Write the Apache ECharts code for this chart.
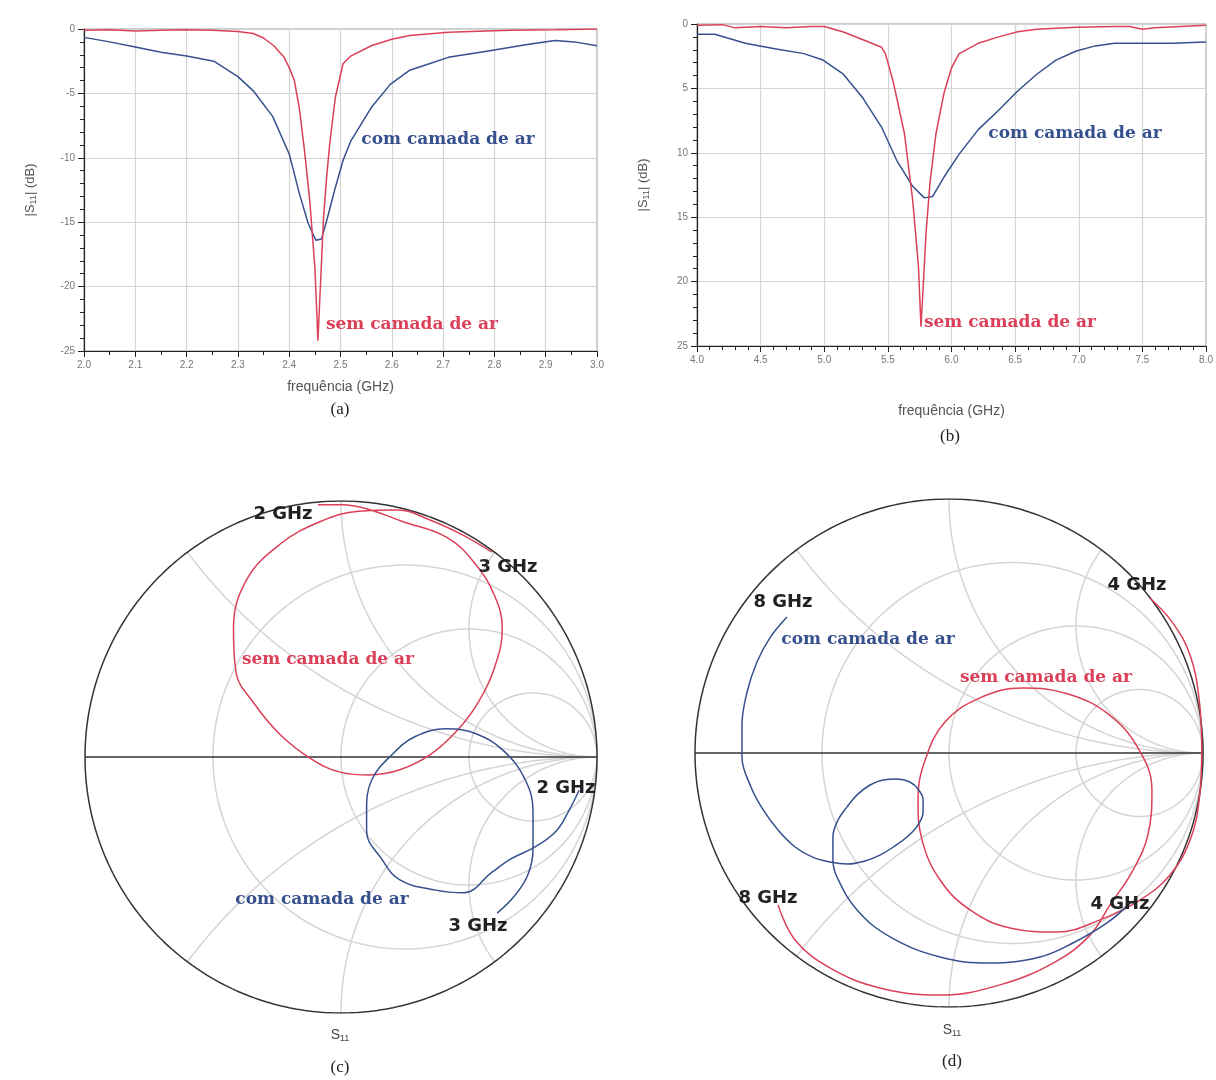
<!DOCTYPE html>
<html>
<head>
<meta charset="utf-8">
<script src="https://cdn.jsdelivr.net/npm/echarts/dist/echarts.min.js"></script>
<style>
  html, body { margin: 0; padding: 0; background: #fff; }
  #chart { width: 1216px; height: 1080px; }
</style>
</head>
<body>
<div id="chart"></div>
<script>
// (a) 2-3 GHz, |S11| in dB
const freqA_sem = [2.00, 2.05, 2.10, 2.15, 2.20, 2.25, 2.30, 2.33, 2.35, 2.37, 2.39, 2.40, 2.41, 2.42, 2.43, 2.44, 2.45, 2.456, 2.461, 2.467, 2.473, 2.479, 2.49, 2.505, 2.52, 2.56, 2.60, 2.635, 2.71, 2.83, 2.92, 3.00];
const s11A_sem  = [-0.1, -0.05, -0.15, -0.1, -0.05, -0.1, -0.2, -0.35, -0.7, -1.3, -2.2, -3.0, -4.0, -6.2, -9.5, -13.3, -18.5, -24.2, -19.8, -14.6, -11.5, -8.9, -5.3, -2.7, -2.1, -1.3, -0.8, -0.5, -0.26, -0.1, -0.05, 0];
const freqA_com = [2.00, 2.05, 2.10, 2.15, 2.20, 2.253, 2.30, 2.33, 2.368, 2.40, 2.42, 2.437, 2.452, 2.463, 2.475, 2.49, 2.505, 2.52, 2.56, 2.597, 2.635, 2.673, 2.71, 2.788, 2.864, 2.918, 2.956, 3.00];
const s11A_com  = [-0.65, -1.0, -1.4, -1.8, -2.1, -2.5, -3.7, -4.8, -6.8, -9.7, -12.8, -15.1, -16.4, -16.3, -14.6, -12.3, -10.2, -8.7, -6.1, -4.3, -3.2, -2.7, -2.2, -1.7, -1.2, -0.9, -1.0, -1.3];

// (b) 4-8 GHz
const freqB_sem = [4.0, 4.2, 4.3, 4.5, 4.7, 4.9, 5.0, 5.145, 5.3, 5.45, 5.48, 5.54, 5.63, 5.695, 5.74, 5.76, 5.785, 5.80, 5.83, 5.878, 5.94, 6.0, 6.06, 6.21, 6.37, 6.52, 6.67, 6.98, 7.28, 7.4, 7.5, 7.6, 7.8, 8.0];
const s11B_sem  = [-0.1, -0.05, -0.3, -0.2, -0.3, -0.2, -0.2, -0.6, -1.2, -1.8, -2.3, -4.4, -8.5, -13.7, -18.8, -23.5, -19.0, -16.2, -12.4, -8.5, -5.4, -3.4, -2.3, -1.5, -1.0, -0.6, -0.4, -0.25, -0.2, -0.2, -0.4, -0.3, -0.2, -0.1];
const freqB_com = [4.0, 4.14, 4.38, 4.6, 4.84, 4.99, 5.15, 5.3, 5.45, 5.57, 5.695, 5.786, 5.85, 5.94, 6.06, 6.21, 6.37, 6.52, 6.67, 6.82, 6.98, 7.13, 7.28, 7.5, 7.74, 8.0];
const s11B_com  = [-0.8, -0.8, -1.5, -1.9, -2.3, -2.8, -3.9, -5.7, -8.0, -10.6, -12.6, -13.5, -13.4, -11.9, -10.1, -8.2, -6.7, -5.2, -3.9, -2.8, -2.1, -1.7, -1.5, -1.5, -1.5, -1.4];

// (c) Smith chart 2-3 GHz, S11 as [re, im]
const gammaC_sem = [[-0.09, 0.985], [0.0, 0.985], [0.1, 0.97], [0.24, 0.92], [0.41, 0.86], [0.52, 0.76], [0.60, 0.63], [0.63, 0.50], [0.60, 0.35], [0.54, 0.22], [0.46, 0.11], [0.35, 0.01], [0.23, -0.05], [0.11, -0.07], [0.0, -0.06], [-0.12, -0.005], [-0.24, 0.09], [-0.34, 0.21], [-0.41, 0.33], [-0.42, 0.50], [-0.37, 0.69], [-0.24, 0.83], [-0.08, 0.92], [0.07, 0.96], [0.22, 0.965], [0.35, 0.925], [0.48, 0.865], [0.59, 0.80]];
const gammaC_com = [[0.93, -0.13], [0.89, -0.21], [0.84, -0.29], [0.76, -0.35], [0.66, -0.40], [0.59, -0.45], [0.48, -0.53], [0.37, -0.52], [0.23, -0.48], [0.16, -0.40], [0.10, -0.29], [0.10, -0.21], [0.12, -0.09], [0.20, 0.01], [0.29, 0.08], [0.41, 0.11], [0.53, 0.09], [0.64, 0.02], [0.72, -0.09], [0.75, -0.21], [0.75, -0.36], [0.73, -0.46], [0.68, -0.54], [0.61, -0.61]];

// (d) Smith chart 4-8 GHz
const gammaD_sem = [[0.79, 0.61], [0.878, 0.516], [0.949, 0.386], [0.985, 0.209], [0.995, 0.012], [0.985, -0.185], [0.949, -0.343], [0.870, -0.480], [0.752, -0.579], [0.594, -0.657], [0.425, -0.705], [0.240, -0.689], [0.083, -0.618], [-0.035, -0.5], [-0.106, -0.343], [-0.122, -0.185], [-0.094, -0.028], [-0.016, 0.122], [0.122, 0.217], [0.291, 0.256], [0.469, 0.232], [0.626, 0.154], [0.744, 0.020], [0.799, -0.146], [0.783, -0.323], [0.720, -0.469], [0.634, -0.598], [0.555, -0.717], [0.417, -0.823], [0.201, -0.913], [-0.035, -0.953], [-0.272, -0.925], [-0.469, -0.846], [-0.606, -0.736], [-0.673, -0.598]];
const gammaD_com = [[0.713, -0.591], [0.622, -0.669], [0.488, -0.748], [0.358, -0.803], [0.161, -0.827], [-0.035, -0.803], [-0.232, -0.724], [-0.362, -0.618], [-0.441, -0.488], [-0.457, -0.421], [-0.457, -0.331], [-0.437, -0.264], [-0.402, -0.213], [-0.362, -0.165], [-0.311, -0.126], [-0.260, -0.106], [-0.205, -0.102], [-0.154, -0.114], [-0.122, -0.142], [-0.102, -0.185], [-0.102, -0.232], [-0.122, -0.283], [-0.161, -0.327], [-0.213, -0.366], [-0.272, -0.402], [-0.331, -0.425], [-0.398, -0.437], [-0.469, -0.429], [-0.539, -0.409], [-0.606, -0.370], [-0.673, -0.303], [-0.736, -0.217], [-0.783, -0.126], [-0.815, -0.016], [-0.815, 0.110], [-0.795, 0.240], [-0.756, 0.358], [-0.705, 0.453], [-0.638, 0.535]];

// Smith grid values
const smithR = [1 / 3, 1, 3];
const smithX = [0.5, 1, 2];

const RED = "#dc4058";
const BLUE = "#36508e";
const GRIDGRAY = "#d4d4d4";

function zip(xs, ys) {
  return xs.map((x, i) => [x, ys[i]]);
}

function zToGamma(r, x) {
  const den = (r + 1) * (r + 1) + x * x;
  return [(r * r + x * x - 1) / den, (2 * x) / den];
}

function resistanceCircle(r) {
  const pts = [];
  for (let i = 1; i < 400; i++) {
    const t = -Math.PI / 2 + (Math.PI * i) / 400;
    pts.push(zToGamma(r, Math.tan(t)));
  }
  pts.unshift([1, 0]);
  pts.push([1, 0]);
  return pts;
}

function reactanceArc(x) {
  const pts = [];
  for (let i = 0; i < 300; i++) {
    const t = i / 300;
    pts.push(zToGamma(t / (1 - t), x));
  }
  pts.push([1, 0]);
  return pts;
}

function smithGridSeries(idx) {
  const base = {
    type: "line", xAxisIndex: idx, yAxisIndex: idx, showSymbol: false,
    silent: true, animation: false, z: 1,
    lineStyle: { color: GRIDGRAY, width: 1.5 },
  };
  const list = [];
  smithR.forEach((r) => list.push({ ...base, data: resistanceCircle(r) }));
  smithX.forEach((x) => {
    list.push({ ...base, data: reactanceArc(x) });
    list.push({ ...base, data: reactanceArc(-x) });
  });
  list.push({ ...base, z: 3, lineStyle: { color: "#333", width: 1.5 }, data: resistanceCircle(0) });
  list.push({ ...base, z: 3, lineStyle: { color: "#333", width: 1.5 }, data: [[-1, 0], [1, 0]] });
  return list;
}

function traceSeries(idx, data, color, smooth) {
  return {
    type: "line", xAxisIndex: idx, yAxisIndex: idx, data: data,
    showSymbol: false, smooth: smooth, animation: false, z: 4,
    lineStyle: { color: color, width: 1.5 },
  };
}

const tickLabel = { color: "#777", fontSize: 10, fontFamily: "Liberation Sans" };

function freqAxis(idx, min, max, interval, minorSplit, gap) {
  return {
    gridIndex: idx, type: "value", min: min, max: max, interval: interval,
    name: "frequência (GHz)", nameLocation: "middle", nameGap: gap,
    nameTextStyle: { color: "#555", fontSize: 14, fontFamily: "Liberation Sans" },
    axisLine: { onZero: false, lineStyle: { color: "#222", width: 1.2 } },
    axisTick: { length: 6, lineStyle: { color: "#222" } },
    minorTick: { show: true, splitNumber: minorSplit, length: 4, lineStyle: { color: "#222" } },
    axisLabel: { ...tickLabel, margin: 9, formatter: (v) => v.toFixed(1) },
    splitLine: { show: true, lineStyle: { color: GRIDGRAY, width: 1.2 } },
  };
}

function dbAxis(idx, fmt) {
  return {
    gridIndex: idx, type: "value", min: -25, max: 0, interval: 5,
    name: "|S{s|11}| (dB)", nameLocation: "middle", nameGap: 46, nameRotate: 90,
    nameTextStyle: {
      color: "#555", fontSize: 13, fontFamily: "Liberation Sans",
      rich: { s: { fontSize: 9, color: "#555", verticalAlign: "bottom", padding: [6, 0, 0, 0] } },
    },
    axisLine: { show: true, onZero: false, lineStyle: { color: "#222", width: 1.2 } },
    axisTick: { show: true, length: 6, lineStyle: { color: "#222" } },
    minorTick: { show: true, splitNumber: 5, length: 4, lineStyle: { color: "#222" } },
    axisLabel: { ...tickLabel, margin: 9, formatter: fmt },
    splitLine: { show: true, lineStyle: { color: GRIDGRAY, width: 1.2 } },
  };
}

function smithAxis(idx) {
  return { gridIndex: idx, type: "value", min: -1, max: 1, show: false };
}

function txt(text, x, y, style) {
  return {
    type: "text", x: x, y: y, silent: true, z: 10,
    style: { text: text, textAlign: "center", textVerticalAlign: "middle", ...style },
  };
}

function s11Text(x, y) {
  return {
    type: "text", x: x, y: y, silent: true,
    style: {
      text: "S{s|11}", textAlign: "center", textVerticalAlign: "middle",
      font: "14px 'Liberation Sans'", fill: "#444",
      rich: { s: { fontSize: 9, fill: "#444", padding: [8, 0, 0, 0] } },
    },
  };
}

const serifLabel = { font: "bold 17px 'DejaVu Serif'" };
const ghzLabel = { font: "bold 18px 'DejaVu Sans'", fill: "#222" };
const caption = { font: "17px 'Liberation Serif'", fill: "#222" };

const chart = echarts.init(document.getElementById("chart"));

chart.setOption({
  backgroundColor: "#fff",
  animation: false,
  grid: [
    { left: 84, top: 29, width: 513, height: 322, show: true, borderColor: "#999", borderWidth: 1 },
    { left: 697, top: 24, width: 510, height: 322, show: true, borderColor: "#999", borderWidth: 1 },
    { left: 85, top: 501, width: 512, height: 512 },
    { left: 695, top: 499, width: 508, height: 508 },
  ],
  xAxis: [
    freqAxis(0, 2, 3, 0.1, 2, 29),
    freqAxis(1, 4, 8, 0.5, 5, 58),
    smithAxis(2),
    smithAxis(3),
  ],
  yAxis: [
    dbAxis(0, (v) => String(v)),
    dbAxis(1, (v) => String(Math.abs(v))),
    smithAxis(2),
    smithAxis(3),
  ],
  series: [
    traceSeries(0, zip(freqA_com, s11A_com), BLUE, false),
    traceSeries(0, zip(freqA_sem, s11A_sem), RED, false),
    traceSeries(1, zip(freqB_com, s11B_com), BLUE, false),
    traceSeries(1, zip(freqB_sem, s11B_sem), RED, false),
    ...smithGridSeries(2),
    ...smithGridSeries(3),
    traceSeries(2, gammaC_sem, RED, 0.4),
    traceSeries(2, gammaC_com, BLUE, 0.4),
    traceSeries(3, gammaD_sem, RED, 0.4),
    traceSeries(3, gammaD_com, BLUE, 0.4),
  ],
  graphic: [
    // (a)
    txt("com camada de ar", 448, 140, { ...serifLabel, fill: BLUE }),
    txt("sem camada de ar", 412, 325, { ...serifLabel, fill: RED }),
    txt("(a)", 340, 410, caption),
    // (b)
    txt("com camada de ar", 1075, 134, { ...serifLabel, fill: BLUE }),
    txt("sem camada de ar", 1010, 323, { ...serifLabel, fill: RED }),
    txt("(b)", 950, 437, caption),
    // (c)
    txt("2 GHz", 283, 514, ghzLabel),
    txt("3 GHz", 508, 567, ghzLabel),
    txt("2 GHz", 566, 788, ghzLabel),
    txt("3 GHz", 478, 926, ghzLabel),
    txt("sem camada de ar", 328, 660, { ...serifLabel, fill: RED }),
    txt("com camada de ar", 322, 900, { ...serifLabel, fill: BLUE }),
    s11Text(340, 1035),
    txt("(c)", 340, 1068, caption),
    // (d)
    txt("4 GHz", 1137, 585, ghzLabel),
    txt("8 GHz", 783, 602, ghzLabel),
    txt("8 GHz", 768, 898, ghzLabel),
    txt("4 GHz", 1120, 904, ghzLabel),
    txt("com camada de ar", 868, 640, { ...serifLabel, fill: BLUE }),
    txt("sem camada de ar", 1046, 678, { ...serifLabel, fill: RED }),
    s11Text(952, 1030),
    txt("(d)", 952, 1062, caption),
  ],
});
</script>
</body>
</html>
